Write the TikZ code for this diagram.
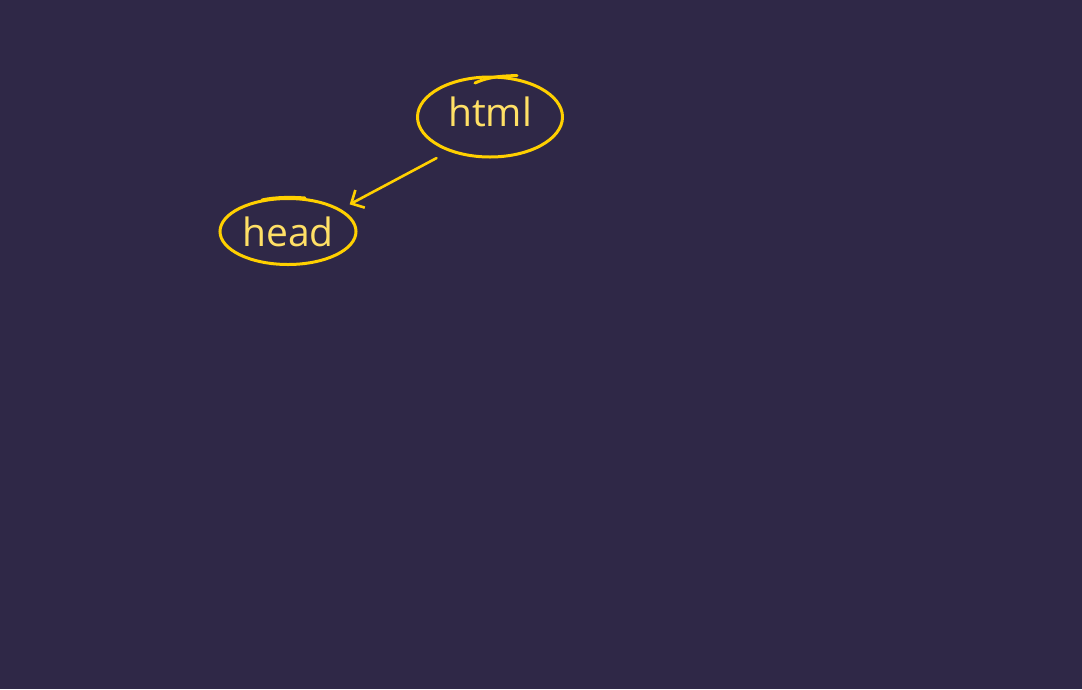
\documentclass[tikz,border=0pt]{standalone}
\usepackage{fontspec}
\setmainfont{Open Sans}
\usetikzlibrary{shapes.geometric,arrows.meta}
\definecolor{bg}{HTML}{2F2847}
\definecolor{stroke}{HTML}{FFD000}
\definecolor{txt}{HTML}{FFE066}
\tikzset{
  bubble/.style={ellipse, draw=stroke, line width=3pt, text=txt, inner sep=0pt,
    font=\fontsize{39}{39}\selectfont},
  flourish/.style={draw=stroke, line width=3pt, line cap=round},
  link/.style={draw=stroke, line width=2.6pt, line cap=round, shorten <=14pt, shorten >=10pt,
    -{Straight Barb[length=10pt,width=20pt,line width=2.6pt]}}
}
\begin{document}
\begin{tikzpicture}[x=1pt,y=-1pt]
\fill[bg] (0,0) rectangle (1082,689);
\useasboundingbox (0,0) rectangle (1082,689);
\node[bubble, minimum width=145pt, minimum height=80pt, text depth=10pt] (html) at (490,117) {html};
\node[bubble, minimum width=136pt, minimum height=66pt] (head) at (288,231.5) {head};
\path[flourish] (475,83) .. controls (490,76) and (505,76) .. (517,75.5);
\path[flourish] (262,200) .. controls (275,197) and (292,197) .. (305,198);
\path[link] (html.220) -- (head.23);
\end{tikzpicture}
\end{document}
